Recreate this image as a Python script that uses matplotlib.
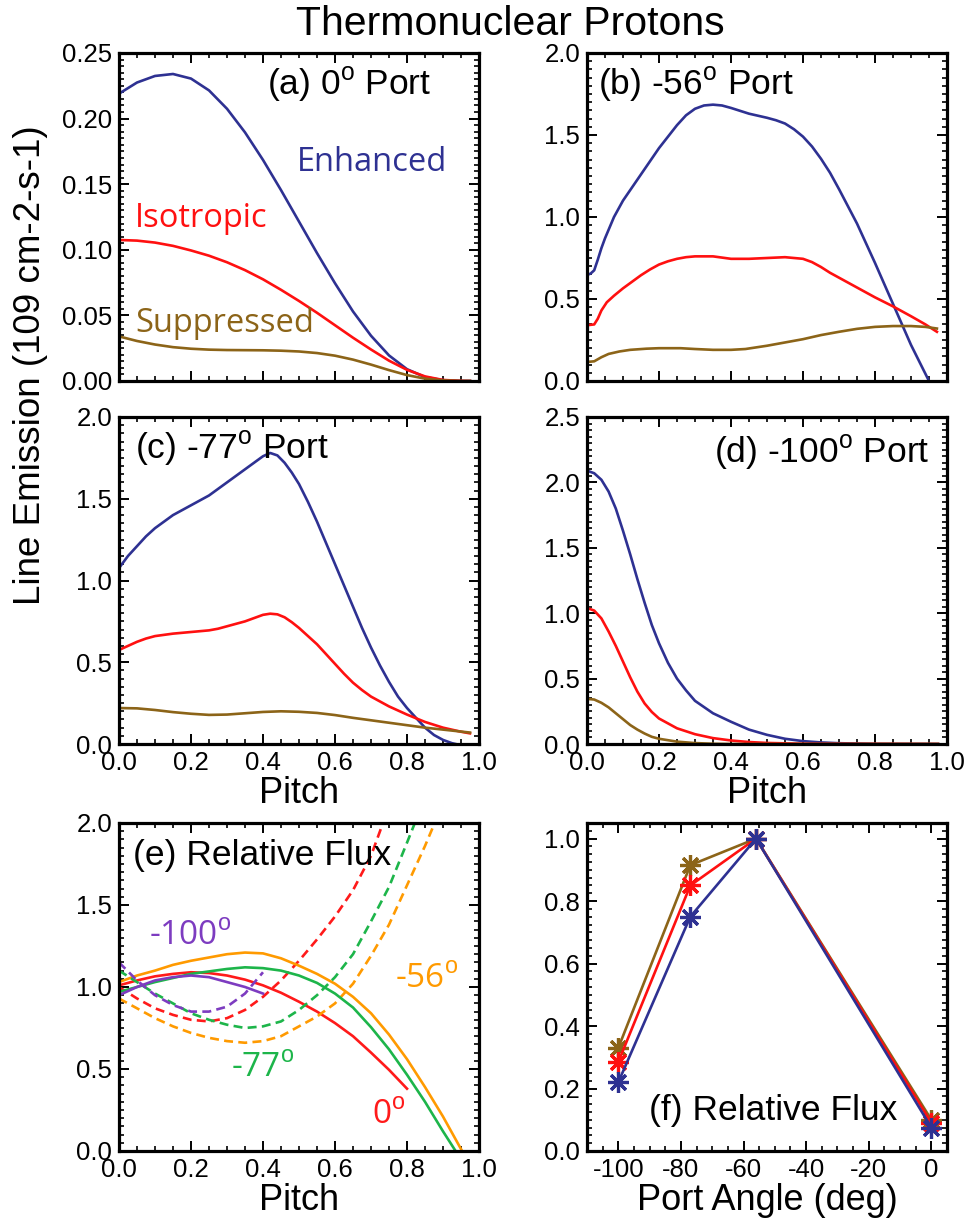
import matplotlib
matplotlib.use("Agg")
import matplotlib.pyplot as plt
from matplotlib.ticker import MultipleLocator, FormatStrFormatter

plt.rcParams["font.family"] = ["Liberation Sans", "DejaVu Sans"]
plt.rcParams["mathtext.fontset"] = "custom"
plt.rcParams["mathtext.rm"] = "Liberation Sans"
plt.rcParams["axes.unicode_minus"] = False

# ---------------- data ----------------
# (a) 0 deg port
a_x = [0.0, 0.05, 0.10, 0.15, 0.20, 0.25, 0.30, 0.35, 0.40, 0.45, 0.50,
       0.55, 0.60, 0.65, 0.70, 0.75, 0.80, 0.85, 0.90, 0.95, 0.975]
a_enh = [0.219, 0.2275, 0.2325, 0.234, 0.2305, 0.2215, 0.2075, 0.1895, 0.1685, 0.1455, 0.1215,
         0.0975, 0.0745, 0.0530, 0.0345, 0.0195, 0.0090, 0.0030, 0.0006, 0.0, 0.0]
a_iso = [0.1075, 0.1070, 0.1055, 0.1030, 0.0995, 0.0955, 0.0905, 0.0845, 0.0775, 0.0695, 0.0610,
         0.0520, 0.0425, 0.0330, 0.0240, 0.0155, 0.0085, 0.0035, 0.0008, 0.0001, 0.0]
a_sup = [0.034, 0.0305, 0.0278, 0.0258, 0.0246, 0.0239, 0.0236, 0.0235, 0.0234, 0.0231, 0.0225,
         0.0213, 0.0193, 0.0163, 0.0125, 0.0083, 0.0045, 0.0018, 0.0004, 0.0, 0.0]

# (b) -56 deg port
b_enh_x = [0.0, 0.01, 0.02, 0.03, 0.04, 0.05, 0.075, 0.10, 0.125, 0.15, 0.175, 0.20, 0.225,
           0.25, 0.275, 0.30, 0.325, 0.35, 0.375, 0.40, 0.45, 0.50, 0.525, 0.55, 0.575,
           0.60, 0.625, 0.65, 0.675, 0.70, 0.75, 0.80, 0.85, 0.90, 0.95]
b_enh = [0.646, 0.655, 0.675, 0.74, 0.81, 0.87, 1.00, 1.10, 1.18, 1.26, 1.34, 1.42, 1.49,
         1.56, 1.62, 1.66, 1.68, 1.685, 1.68, 1.665, 1.63, 1.605, 1.59, 1.57, 1.535,
         1.49, 1.43, 1.355, 1.27, 1.17, 0.96, 0.72, 0.47, 0.22, 0.0]
b_iso_x = [0.0, 0.02, 0.03, 0.04, 0.055, 0.075, 0.10, 0.125, 0.15, 0.175, 0.20, 0.225, 0.25,
           0.275, 0.30, 0.35, 0.40, 0.45, 0.50, 0.55, 0.60, 0.625, 0.65, 0.675, 0.70, 0.75,
           0.80, 0.85, 0.90, 0.94, 0.972]
b_iso = [0.34, 0.345, 0.38, 0.43, 0.48, 0.52, 0.565, 0.605, 0.645, 0.68, 0.71, 0.73, 0.745,
         0.755, 0.76, 0.76, 0.745, 0.745, 0.75, 0.755, 0.745, 0.725, 0.695, 0.66, 0.63, 0.57,
         0.51, 0.455, 0.395, 0.345, 0.30]
b_sup_x = [0.0, 0.02, 0.04, 0.06, 0.09, 0.12, 0.165, 0.20, 0.26, 0.30, 0.35, 0.40, 0.44,
           0.50, 0.55, 0.60, 0.65, 0.70, 0.75, 0.80, 0.85, 0.90, 0.94, 0.972]
b_sup = [0.116, 0.12, 0.145, 0.165, 0.18, 0.19, 0.197, 0.20, 0.20, 0.195, 0.19, 0.19, 0.195,
         0.215, 0.235, 0.255, 0.28, 0.30, 0.318, 0.33, 0.335, 0.335, 0.33, 0.32]

# (c) -77 deg port
c_enh_x = [0.0, 0.025, 0.05, 0.075, 0.10, 0.125, 0.15, 0.175, 0.20, 0.225, 0.25, 0.275,
           0.30, 0.325, 0.35, 0.375, 0.40, 0.42, 0.44, 0.46, 0.48, 0.50, 0.525, 0.55,
           0.575, 0.60, 0.625, 0.65, 0.675, 0.70, 0.725, 0.75, 0.775, 0.80, 0.825, 0.85,
           0.875, 0.90, 0.925, 0.935]
c_enh = [1.076, 1.15, 1.21, 1.27, 1.32, 1.36, 1.40, 1.43, 1.46, 1.49, 1.52, 1.56,
         1.60, 1.64, 1.68, 1.72, 1.76, 1.78, 1.765, 1.72, 1.66, 1.59, 1.48, 1.36,
         1.23, 1.10, 0.97, 0.84, 0.71, 0.59, 0.48, 0.38, 0.29, 0.22, 0.16, 0.10,
         0.055, 0.025, 0.005, 0.0]
c_iso_x = [0.0, 0.025, 0.05, 0.075, 0.10, 0.15, 0.20, 0.25, 0.275, 0.30, 0.325, 0.35, 0.375,
           0.40, 0.42, 0.44, 0.46, 0.48, 0.50, 0.525, 0.55, 0.575, 0.60, 0.625, 0.65, 0.675,
           0.70, 0.75, 0.80, 0.85, 0.90, 0.95, 0.975]
c_iso = [0.575, 0.60, 0.625, 0.645, 0.66, 0.675, 0.685, 0.695, 0.705, 0.72, 0.735, 0.75, 0.77,
         0.79, 0.797, 0.793, 0.775, 0.745, 0.71, 0.66, 0.61, 0.55, 0.49, 0.43, 0.375, 0.33,
         0.29, 0.23, 0.18, 0.135, 0.10, 0.075, 0.065]
c_sup_x = [0.0, 0.05, 0.10, 0.15, 0.20, 0.25, 0.30, 0.35, 0.40, 0.45, 0.50, 0.55, 0.60,
           0.65, 0.70, 0.75, 0.80, 0.85, 0.90, 0.95, 0.975]
c_sup = [0.22, 0.218, 0.208, 0.195, 0.185, 0.178, 0.18, 0.188, 0.196, 0.20, 0.197, 0.19, 0.177,
         0.16, 0.145, 0.13, 0.115, 0.10, 0.088, 0.076, 0.07]

# (d) -100 deg port
d_enh_x = [0.0, 0.02, 0.04, 0.06, 0.08, 0.10, 0.12, 0.14, 0.16, 0.18, 0.20, 0.225, 0.25,
           0.275, 0.30, 0.35, 0.40, 0.45, 0.50, 0.55, 0.60, 0.65, 0.70, 0.80, 0.975]
d_enh = [2.09, 2.07, 2.02, 1.93, 1.80, 1.63, 1.45, 1.26, 1.08, 0.91, 0.77, 0.62, 0.50,
         0.41, 0.33, 0.235, 0.17, 0.11, 0.07, 0.04, 0.022, 0.012, 0.006, 0.001, 0.0]
d_iso_x = [0.0, 0.02, 0.04, 0.06, 0.08, 0.10, 0.12, 0.14, 0.16, 0.18, 0.20, 0.25, 0.30,
           0.35, 0.40, 0.45, 0.50, 0.60, 0.975]
d_iso = [1.04, 1.02, 0.96, 0.86, 0.75, 0.63, 0.51, 0.40, 0.31, 0.245, 0.195, 0.12, 0.075,
         0.045, 0.027, 0.015, 0.008, 0.002, 0.0]
d_sup_x = [0.0, 0.02, 0.04, 0.06, 0.08, 0.10, 0.12, 0.14, 0.16, 0.18, 0.20, 0.25, 0.30,
           0.35, 0.40, 0.975]
d_sup = [0.345, 0.34, 0.315, 0.28, 0.235, 0.19, 0.145, 0.11, 0.08, 0.055, 0.04, 0.018, 0.007,
         0.002, 0.0, 0.0]

# (e) relative flux vs pitch (solid / dashed per port)
e0_sol_x = [0.0, 0.05, 0.1, 0.15, 0.2, 0.25, 0.3, 0.35, 0.4, 0.45, 0.5, 0.55, 0.6,
            0.65, 0.7, 0.75, 0.8]
e0_sol = [1.01, 1.04, 1.065, 1.08, 1.09, 1.085, 1.07, 1.045, 1.01, 0.965, 0.91, 0.85, 0.78,
          0.70, 0.60, 0.495, 0.38]
e0_das_x = [0.0, 0.05, 0.1, 0.15, 0.2, 0.25, 0.3, 0.35, 0.4, 0.45, 0.5, 0.55, 0.6, 0.65,
            0.7, 0.75]
e0_das = [1.00, 0.93, 0.87, 0.83, 0.80, 0.79, 0.81, 0.86, 0.94, 1.04, 1.16, 1.29, 1.43, 1.59,
          1.80, 2.10]

e56_sol_x = [0.0, 0.05, 0.1, 0.15, 0.2, 0.25, 0.3, 0.35, 0.4, 0.45, 0.5, 0.55, 0.6, 0.65,
             0.7, 0.75, 0.8, 0.85, 0.9, 0.953]
e56_sol = [1.03, 1.07, 1.10, 1.135, 1.16, 1.18, 1.20, 1.21, 1.205, 1.175, 1.13, 1.08, 1.02,
           0.94, 0.84, 0.71, 0.56, 0.39, 0.21, 0.0]
e56_das_x = [0.0, 0.05, 0.1, 0.15, 0.2, 0.25, 0.3, 0.35, 0.4, 0.45, 0.5, 0.55, 0.6,
             0.65, 0.7, 0.75, 0.8, 0.85, 0.9]
e56_das = [0.93, 0.87, 0.81, 0.76, 0.72, 0.69, 0.67, 0.66, 0.67, 0.70, 0.76, 0.82, 0.90,
           1.02, 1.19, 1.38, 1.62, 1.86, 2.12]

e77_sol_x = [0.0, 0.05, 0.1, 0.15, 0.2, 0.25, 0.3, 0.35, 0.4, 0.45, 0.5, 0.55, 0.6, 0.65,
             0.7, 0.75, 0.8, 0.85, 0.9, 0.935]
e77_sol = [0.97, 1.00, 1.03, 1.055, 1.08, 1.095, 1.11, 1.12, 1.115, 1.10, 1.07, 1.025, 0.96,
           0.875, 0.755, 0.62, 0.465, 0.30, 0.12, 0.0]
e77_das_x = [0.0, 0.05, 0.1, 0.15, 0.2, 0.25, 0.3, 0.35, 0.4, 0.45, 0.5, 0.55, 0.6,
             0.65, 0.7, 0.75, 0.8, 0.84]
e77_das = [1.10, 1.03, 0.96, 0.90, 0.84, 0.80, 0.77, 0.75, 0.76, 0.79, 0.86, 0.95, 1.06,
           1.20, 1.40, 1.61, 1.88, 2.10]

e100_x = [0.0, 0.05, 0.1, 0.15, 0.2, 0.25, 0.3, 0.35, 0.4]
e100_sol = [0.95, 1.00, 1.04, 1.06, 1.07, 1.06, 1.03, 1.00, 0.96]
e100_das = [1.15, 1.04, 0.95, 0.89, 0.85, 0.85, 0.88, 0.96, 1.09]

# (f) relative flux vs port angle
f_angle = [-100, -77, -56, 0]
f_sup = [0.33, 0.915, 1.0, 0.10]
f_iso = [0.285, 0.85, 1.0, 0.09]
f_enh = [0.22, 0.75, 1.0, 0.075]

# ---------------- style ----------------
C_ENH = "#2e3192"
C_ISO = "#ff1010"
C_SUP = "#8c6418"
C_0 = "#ff1a1a"
C_56 = "#ff9a00"
C_77 = "#1db54a"
C_100 = "#7d3cc0"
LW = 1.9
LABEL_FONT = ["Open Sans", "DejaVu Sans"]

fig = plt.figure(figsize=(9.69, 12.18), dpi=100)

W, H = 969.0, 1218.0
cols = [119, 587]
rows = [(53, 381), (417, 744), (823, 1151)]
aw = 360


def make_ax(col, row):
    top, bot = rows[row]
    ax = fig.add_axes([cols[col] / W, 1 - bot / H, aw / W, (bot - top) / H])
    for s in ax.spines.values():
        s.set_linewidth(2.3)
    ax.tick_params(which="both", direction="in", top=True, right=True,
                   labelsize=18.5, pad=5)
    ax.tick_params(which="major", length=7, width=1.4)
    ax.tick_params(which="minor", length=3.5, width=1.2)
    return ax


def pitch_axis(ax, labels):
    ax.set_xlim(0, 1)
    ax.xaxis.set_major_locator(MultipleLocator(0.2))
    ax.xaxis.set_minor_locator(MultipleLocator(0.05))
    ax.xaxis.set_major_formatter(FormatStrFormatter("%.1f"))
    if labels:
        ax.set_xlabel("Pitch", fontsize=26, labelpad=0.5)
    else:
        ax.tick_params(axis="x", labelbottom=False)


def port_label(ax, txt, x, y, ha="left"):
    ax.text(x, y, txt, transform=ax.transAxes, fontsize=25.5, ha=ha, va="baseline")


def curve_label(ax, txt, x, y, color, size=23.5):
    ax.text(x, y, txt, transform=ax.transAxes, fontsize=size, ha="left",
            va="baseline", color=color, family=LABEL_FONT)


# (a)
ax = make_ax(0, 0)
ax.plot(a_x, a_enh, color=C_ENH, lw=LW)
ax.plot(a_x, a_iso, color=C_ISO, lw=LW)
ax.plot(a_x, a_sup, color=C_SUP, lw=LW)
ax.set_ylim(0, 0.25)
ax.yaxis.set_major_locator(MultipleLocator(0.05))
ax.yaxis.set_minor_locator(MultipleLocator(0.005))
ax.yaxis.set_major_formatter(FormatStrFormatter("%.2f"))
pitch_axis(ax, False)
port_label(ax, r"(a) 0$^{\rm o}$ Port", 0.41, 0.875)
curve_label(ax, "Enhanced", 0.494, 0.64, C_ENH)
curve_label(ax, "Isotropic", 0.044, 0.47, C_ISO)
curve_label(ax, "Suppressed", 0.044, 0.15, C_SUP)

# (b)
ax = make_ax(1, 0)
ax.plot(b_enh_x, b_enh, color=C_ENH, lw=LW)
ax.plot(b_iso_x, b_iso, color=C_ISO, lw=LW)
ax.plot(b_sup_x, b_sup, color=C_SUP, lw=LW)
ax.set_ylim(0, 2.0)
ax.yaxis.set_major_locator(MultipleLocator(0.5))
ax.yaxis.set_minor_locator(MultipleLocator(0.05))
ax.yaxis.set_major_formatter(FormatStrFormatter("%.1f"))
pitch_axis(ax, False)
port_label(ax, r"(b) -56$^{\rm o}$ Port", 0.03, 0.875)

# (c)
ax = make_ax(0, 1)
ax.plot(c_enh_x, c_enh, color=C_ENH, lw=LW)
ax.plot(c_iso_x, c_iso, color=C_ISO, lw=LW)
ax.plot(c_sup_x, c_sup, color=C_SUP, lw=LW)
ax.set_ylim(0, 2.0)
ax.yaxis.set_major_locator(MultipleLocator(0.5))
ax.yaxis.set_minor_locator(MultipleLocator(0.05))
ax.yaxis.set_major_formatter(FormatStrFormatter("%.1f"))
pitch_axis(ax, True)
port_label(ax, r"(c) -77$^{\rm o}$ Port", 0.044, 0.875)

# (d)
ax = make_ax(1, 1)
ax.plot(d_enh_x, d_enh, color=C_ENH, lw=LW)
ax.plot(d_iso_x, d_iso, color=C_ISO, lw=LW)
ax.plot(d_sup_x, d_sup, color=C_SUP, lw=LW)
ax.set_ylim(0, 2.5)
ax.yaxis.set_major_locator(MultipleLocator(0.5))
ax.yaxis.set_minor_locator(MultipleLocator(0.05))
ax.yaxis.set_major_formatter(FormatStrFormatter("%.1f"))
pitch_axis(ax, True)
port_label(ax, r"(d) -100$^{\rm o}$ Port", 0.95, 0.86, ha="right")

# (e)
ax = make_ax(0, 2)
dash = (0, (3.4, 2.0))
ax.plot(e0_sol_x, e0_sol, color=C_0, lw=LW)
ax.plot(e0_das_x, e0_das, color=C_0, lw=LW, linestyle=dash)
ax.plot(e56_sol_x, e56_sol, color=C_56, lw=LW)
ax.plot(e56_das_x, e56_das, color=C_56, lw=LW, linestyle=dash)
ax.plot(e77_sol_x, e77_sol, color=C_77, lw=LW)
ax.plot(e77_das_x, e77_das, color=C_77, lw=LW, linestyle=dash)
ax.plot(e100_x, e100_sol, color=C_100, lw=LW)
ax.plot(e100_x, e100_das, color=C_100, lw=LW, linestyle=dash)
ax.set_ylim(0, 2.0)
ax.yaxis.set_major_locator(MultipleLocator(0.5))
ax.yaxis.set_minor_locator(MultipleLocator(0.05))
ax.yaxis.set_major_formatter(FormatStrFormatter("%.1f"))
pitch_axis(ax, True)
port_label(ax, "(e) Relative Flux", 0.039, 0.872)
curve_label(ax, r"-100$^{\rm o}$", 0.083, 0.628, C_100, size=24)
curve_label(ax, r"-77$^{\rm o}$", 0.31, 0.226, C_77, size=24)
curve_label(ax, r"0$^{\rm o}$", 0.704, 0.085, C_0, size=24)
curve_label(ax, r"-56$^{\rm o}$", 0.767, 0.497, C_56, size=24)

# (f)
ax = make_ax(1, 2)
star = dict(marker=(8, 2, 0), markersize=15, markeredgewidth=2.3)
ax.plot(f_angle, f_sup, color=C_SUP, lw=LW, **star)
ax.plot(f_angle, f_iso, color=C_ISO, lw=LW, **star)
ax.plot(f_angle, f_enh, color=C_ENH, lw=LW, **star)
ax.set_xlim(-110, 5)
ax.set_ylim(0, 1.05)
ax.xaxis.set_major_locator(MultipleLocator(20))
ax.xaxis.set_minor_locator(MultipleLocator(5))
ax.xaxis.set_major_formatter(FormatStrFormatter("%d"))
ax.yaxis.set_major_locator(MultipleLocator(0.2))
ax.yaxis.set_minor_locator(MultipleLocator(0.025))
ax.yaxis.set_major_formatter(FormatStrFormatter("%.1f"))
ax.set_xlabel("Port Angle (deg)", fontsize=26, labelpad=0.5)
port_label(ax, "(f) Relative Flux", 0.862, 0.095, ha="right")

fig.text(510 / W, 1 - 24 / H, "Thermonuclear Protons", fontsize=29.5,
         ha="center", va="center")
fig.text(31 / W, 1 - 365 / H, "Line Emission (109 cm-2-s-1)", fontsize=26.5,
         rotation=90, ha="center", va="center")

fig.savefig("out.png", dpi=100)
